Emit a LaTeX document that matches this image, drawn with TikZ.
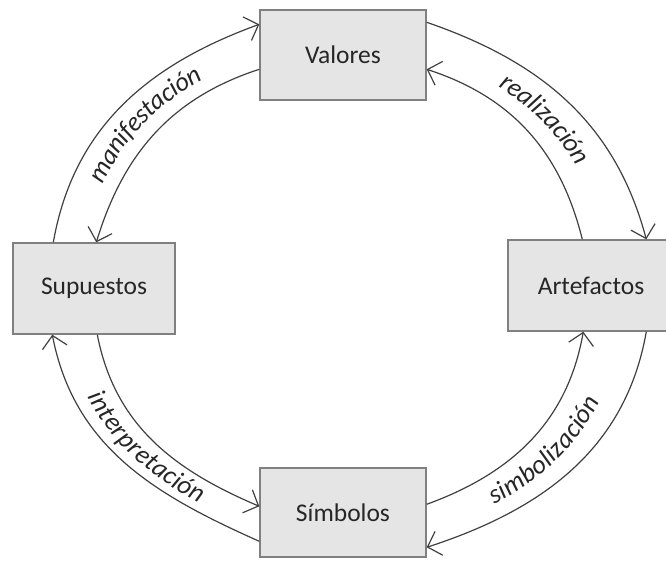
\documentclass[tikz,border=0pt]{standalone}
\usepackage{fontspec}
\setmainfont{Carlito}
\usetikzlibrary{arrows.meta,decorations.text}
\newcommand\lblfont{\fontsize{26.5}{31}\selectfont\itshape\color{black!85}}
\begin{document}
\begin{tikzpicture}[x=1pt,y=1pt,
  box/.style={draw=black!50, line width=1.4pt, fill=black!10, minimum width=166pt,
    minimum height=90pt, inner sep=0pt, font=\fontsize{25.5}{30}\selectfont, text=black!85},
  conn/.style={draw=black!75, line width=1.2pt, -{Straight Barb[length=12pt,width=25pt]}},
  lbl/.style={decorate, decoration={text along path, text align=center, raise=-7.5pt,
    text={|\lblfont|#1}}}
]
\clip (0,0) rectangle (666,560);
\node[box] (val) at (343,505) {Valores};
\node[box, minimum width=162pt, minimum height=91pt] (sup) at (94,271.5) {Supuestos};
\node[box, minimum height=91pt] (art) at (591,274.5) {Artefactos};
\node[box, minimum height=89pt] (sym) at (343,47.5) {Símbolos};

% Supuestos <-> Valores
\draw[conn] ([xshift=41pt]sup.north west) to[out=80,in=200] ([yshift=-15pt]val.north west);
\draw[conn] ([yshift=-60pt]val.north west) to[out=198,in=73] ([xshift=84pt]sup.north west);
\path[lbl=manifestación] ([xshift=62.5pt]sup.north west) to[out=77,in=199] ([yshift=-37.5pt]val.north west);

% Valores <-> Artefactos
\draw[conn] ([yshift=-13pt]val.north east) to[out=-19,in=105] ([xshift=139pt]art.north west);
\draw[conn] ([xshift=75pt]art.north west) to[out=104,in=-18] ([yshift=-60pt]val.north east);
\path[lbl=realización] ([yshift=-36.5pt]val.north east) to[out=-18.5,in=104.5] ([xshift=107pt]art.north west);

% Artefactos <-> Simbolos
\draw[conn] ([yshift=-37pt]sym.north east) to[out=20,in=260] ([xshift=76pt]art.south west);
\draw[conn] ([xshift=139pt]art.south west) to[out=260,in=18] ([yshift=-80pt]sym.north east);
\path[lbl=simbolización] ([yshift=-58.5pt]sym.north east) to[out=19,in=260] ([xshift=107.5pt]art.south west);

% Simbolos <-> Supuestos
\draw[conn] ([yshift=-74pt]sym.north west) to[out=156,in=-79] ([xshift=40pt]sup.south west);
\draw[conn] ([xshift=85pt]sup.south west) to[out=-79,in=157] ([yshift=-39pt]sym.north west);
\path[lbl=interpretación] ([xshift=62.5pt]sup.south west) to[out=-79,in=156.5] ([yshift=-56.5pt]sym.north west);
\end{tikzpicture}
\end{document}
